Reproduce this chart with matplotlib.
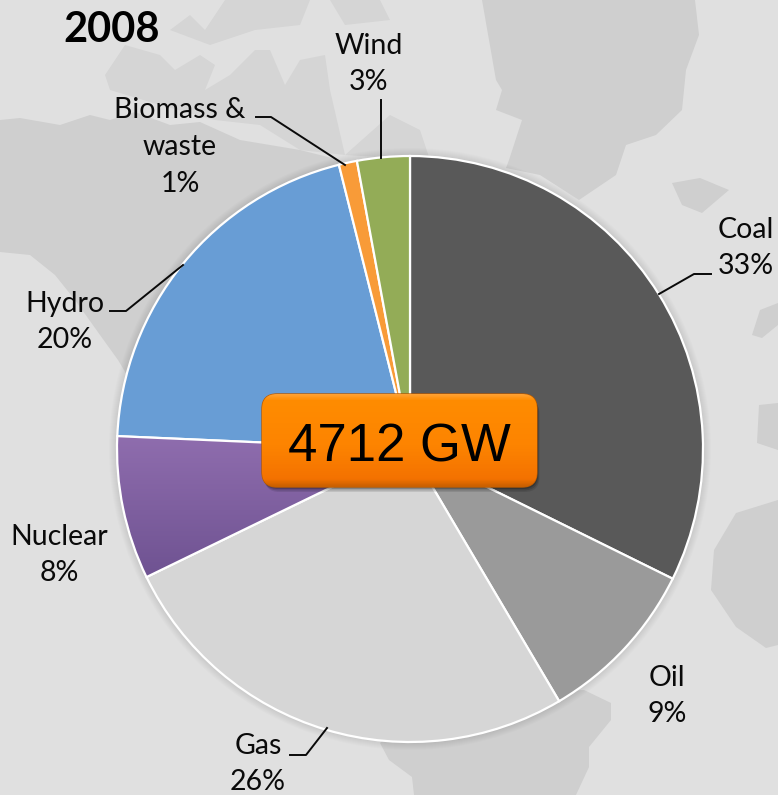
#!/usr/bin/env python3
import numpy as np
import matplotlib
matplotlib.use("Agg")
import matplotlib.pyplot as plt
from matplotlib.colors import LinearSegmentedColormap
from matplotlib.patches import FancyBboxPatch, Polygon, Circle

plt.rcParams["font.family"] = ["Lato", "DejaVu Sans"]

W, H = 778, 795

labels = ["Coal", "Oil", "Gas", "Nuclear", "Hydro", "Biomass &\nwaste", "Wind"]
percent_labels = [33, 9, 26, 8, 20, 1, 3]
# slice sizes as measured on the picture, the printed labels are rounded
shares = [32.3, 9.2, 26.3, 7.9, 20.4, 1.0, 2.9]
colors = ["#595959", "#9a9a9a", "#d6d6d6", "#8064a2", "#689dd5", "#f89b38", "#93ac57"]
total_label = "4712 GW"
year = "2008"

CX, CY, R = 410, 449, 293

label_pos = [(746, 248), (667, 696), (258, 764), (59, 555), (65, 322), (180, 147), (369, 64)]
leaders = [
    [(659, 294), (694, 274), (711, 274)],
    None,
    [(327, 728), (306, 755), (290, 755)],
    None,
    [(183, 265), (126, 311), (110, 311)],
    [(345, 165), (271, 117), (256, 117)],
    [(381, 158), (381, 100)],
]

# rough outlines of the map behind the pie
land = [
    # north america
    [(0, 120), (20, 118), (60, 125), (90, 115), (110, 120), (135, 112), (170, 125), (200, 122),
     (240, 140), (300, 150), (340, 160), (300, 300), (130, 380), (118, 360), (100, 335), (75, 300),
     (55, 275), (30, 255), (0, 252)],
    # greenland
    [(482, 0), (496, 80), (502, 90), (496, 110), (522, 120), (509, 160), (506, 168), (540, 175), (579, 200),
     (616, 175), (626, 145), (656, 135), (682, 110), (686, 70), (699, 35), (695, 0)],
    # iceland
    [(672, 183), (700, 178), (729, 190), (702, 213), (682, 205)],
    # ireland and britain
    [(752, 335), (760, 310), (778, 303), (778, 325), (762, 338)],
    # iberia and north africa
    [(759, 405), (778, 403), (778, 450), (757, 443)],
    [(778, 500), (736, 513), (714, 550), (711, 590), (736, 627), (766, 648), (778, 645)],
    # south america
    [(584, 690), (611, 703), (611, 720), (589, 747), (589, 767), (576, 795), (414, 795),
     (412, 777), (389, 760), (380, 743), (430, 700)],
]
islands = [
    [(105, 75), (125, 45), (160, 55), (175, 70), (200, 55), (215, 65), (205, 90), (230, 75), (255, 50),
     (270, 50), (285, 85), (300, 60), (325, 55), (330, 90), (345, 155), (300, 150), (260, 125),
     (215, 120), (160, 105), (110, 90)],
    [(170, 30), (190, 15), (205, 30), (225, 0), (310, 0), (300, 25), (255, 30), (210, 45)],
    [(345, 155), (390, 115), (420, 130), (430, 160)],
    [(330, 0), (380, 0), (390, 20), (345, 25)],
]

fig = plt.figure(figsize=(W / 100, H / 100), dpi=100)
ax = fig.add_axes([0, 0, 1, 1])
fig.patch.set_facecolor("#e0e0e0")

for pts in islands:
    ax.add_patch(Polygon(pts, closed=True, fc="#d5d5d5", ec="none", zorder=1))
for pts in land:
    ax.add_patch(Polygon(pts, closed=True, fc="#cfcfcf", ec="none", zorder=1))

# soft shadow round the pie
for grow in range(8, 0, -1):
    ax.add_patch(Circle((CX, CY), R + grow, fc="black", ec="none", alpha=0.012, zorder=1.5))

# y axis runs downward, so counterclock here turns clockwise on screen
wedges, _ = ax.pie(
    shares, colors=colors, startangle=-90, counterclock=True,
    center=(CX, CY), radius=R, frame=True,
    wedgeprops=dict(edgecolor="white", linewidth=1.6, zorder=2),
)
ax.set_aspect("auto")

# nuclear slice has a vertical gradient
grad = np.linspace(0, 1, 64).reshape(-1, 1)
img = ax.imshow(grad, extent=(110, 340, 585, 435), aspect="auto", origin="upper", zorder=2.1,
                cmap=LinearSegmentedColormap.from_list("nuc", ["#8f6dae", "#6d5190"]))
img.set_clip_path(wedges[3])
wedges[3].set_zorder(2.2)
wedges[3].set_facecolor("none")

for name, val, (x, y) in zip(labels, percent_labels, label_pos):
    ax.text(x, y, f"{name}\n{val}%", fontsize=20.5, ha="center", va="center",
            color="#0a0a0a", linespacing=1.5, zorder=5)

for line in leaders:
    if line:
        xs, ys = zip(*line)
        ax.plot(xs, ys, color="#0a0a0a", lw=1.4, zorder=4)

ax.text(112, 30, year, fontsize=30, fontweight="bold", ha="center", va="center", color="black")

# total box
box_x, box_y, box_w, box_h = 262, 394, 275, 93
for off, a in ((5, 0.10), (3.5, 0.15), (2, 0.2)):
    ax.add_patch(FancyBboxPatch((box_x + off / 2, box_y + off), box_w, box_h,
                                boxstyle="round,pad=0,rounding_size=15",
                                fc="black", ec="none", alpha=a, zorder=5))
base = FancyBboxPatch((box_x, box_y), box_w, box_h, boxstyle="round,pad=0,rounding_size=15",
                      fc="#c86000", ec="#b85a00", lw=1, zorder=5.5)
ax.add_patch(base)
box_grad = np.linspace(0, 1, 64).reshape(-1, 1)
box_img = ax.imshow(box_grad, extent=(box_x, box_x + box_w, box_y + box_h, box_y), aspect="auto",
                    cmap=LinearSegmentedColormap.from_list(
                        "box", [(0, "#ffa030"), (0.06, "#ff8c00"), (0.55, "#fd8400"),
                                (0.92, "#f47200"), (1, "#c96000")]),
                    origin="upper", zorder=6)
box_img.set_clip_path(base)
ax.text(399, 447, total_label, fontsize=38, family="Liberation Sans", ha="center", va="center",
        color="black", zorder=7)

ax.set_xlim(0, W)
ax.set_ylim(H, 0)
ax.axis("off")

fig.savefig("out.png", dpi=100, facecolor=fig.get_facecolor())
